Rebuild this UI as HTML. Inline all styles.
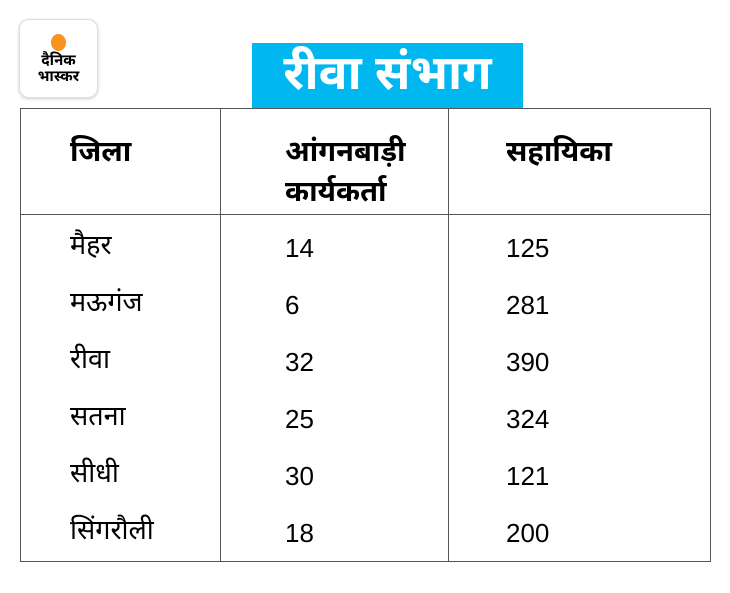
<!DOCTYPE html>
<html><head><meta charset="utf-8"><style>
body{margin:0;width:730px;height:593px;background:#fff;font-family:"Liberation Sans","Noto Sans Devanagari","Lohit Devanagari",sans-serif;position:relative;overflow:hidden;color:#000}
.logo{position:absolute;left:19px;top:19px;width:77px;height:77px;border:1px solid #ddd;border-radius:10px;box-shadow:0 1px 3px rgba(0,0,0,.2);text-align:center;font-weight:bold;font-size:15px;line-height:16px}
.logo .dot{width:15px;height:17px;border-radius:50%;background:#f7931e;margin:14px auto 2px}
.title{position:absolute;left:252px;top:43px;width:271px;height:65px;background:#00b7ef;color:#fff;font-weight:bold;font-size:48px;line-height:62px;text-align:center}
.box{position:absolute;left:20px;top:108px;width:689px;height:452px;border:1.5px solid #555}
.v{position:absolute;top:108px;height:453px;width:0;border-left:1.5px solid #555}
.h{position:absolute;left:20px;width:691px;height:0;border-top:1.5px solid #555}
.t{position:absolute;font-size:26px;line-height:30px;white-space:nowrap}
.d{font-size:27px}
.b{font-weight:bold;font-size:29px;line-height:40px}
</style></head><body>
<div class="logo"><div class="dot"></div>दैनिक<br>भास्कर</div>
<div class="title">रीवा संभाग</div>
<div class="box"></div>
<div class="v" style="left:220px"></div>
<div class="v" style="left:448px"></div>
<div class="h" style="top:214px"></div>
<div class="t b" style="left:70px;top:132px">जिला</div>
<div class="t b" style="left:285px;top:132px">आंगनबाड़ी<br>कार्यकर्ता</div>
<div class="t b" style="left:506px;top:132px">सहायिका</div>
<div class="t d" style="left:70px;top:230px">मैहर</div><div class="t" style="left:285px;top:233px">14</div><div class="t" style="left:506px;top:233px">125</div>
<div class="t d" style="left:70px;top:287px">मऊगंज</div><div class="t" style="left:285px;top:290px">6</div><div class="t" style="left:506px;top:290px">281</div>
<div class="t d" style="left:70px;top:344px">रीवा</div><div class="t" style="left:285px;top:347px">32</div><div class="t" style="left:506px;top:347px">390</div>
<div class="t d" style="left:70px;top:401px">सतना</div><div class="t" style="left:285px;top:404px">25</div><div class="t" style="left:506px;top:404px">324</div>
<div class="t d" style="left:70px;top:458px">सीधी</div><div class="t" style="left:285px;top:461px">30</div><div class="t" style="left:506px;top:461px">121</div>
<div class="t d" style="left:70px;top:515px">सिंगरौली</div><div class="t" style="left:285px;top:518px">18</div><div class="t" style="left:506px;top:518px">200</div>
</body></html>
